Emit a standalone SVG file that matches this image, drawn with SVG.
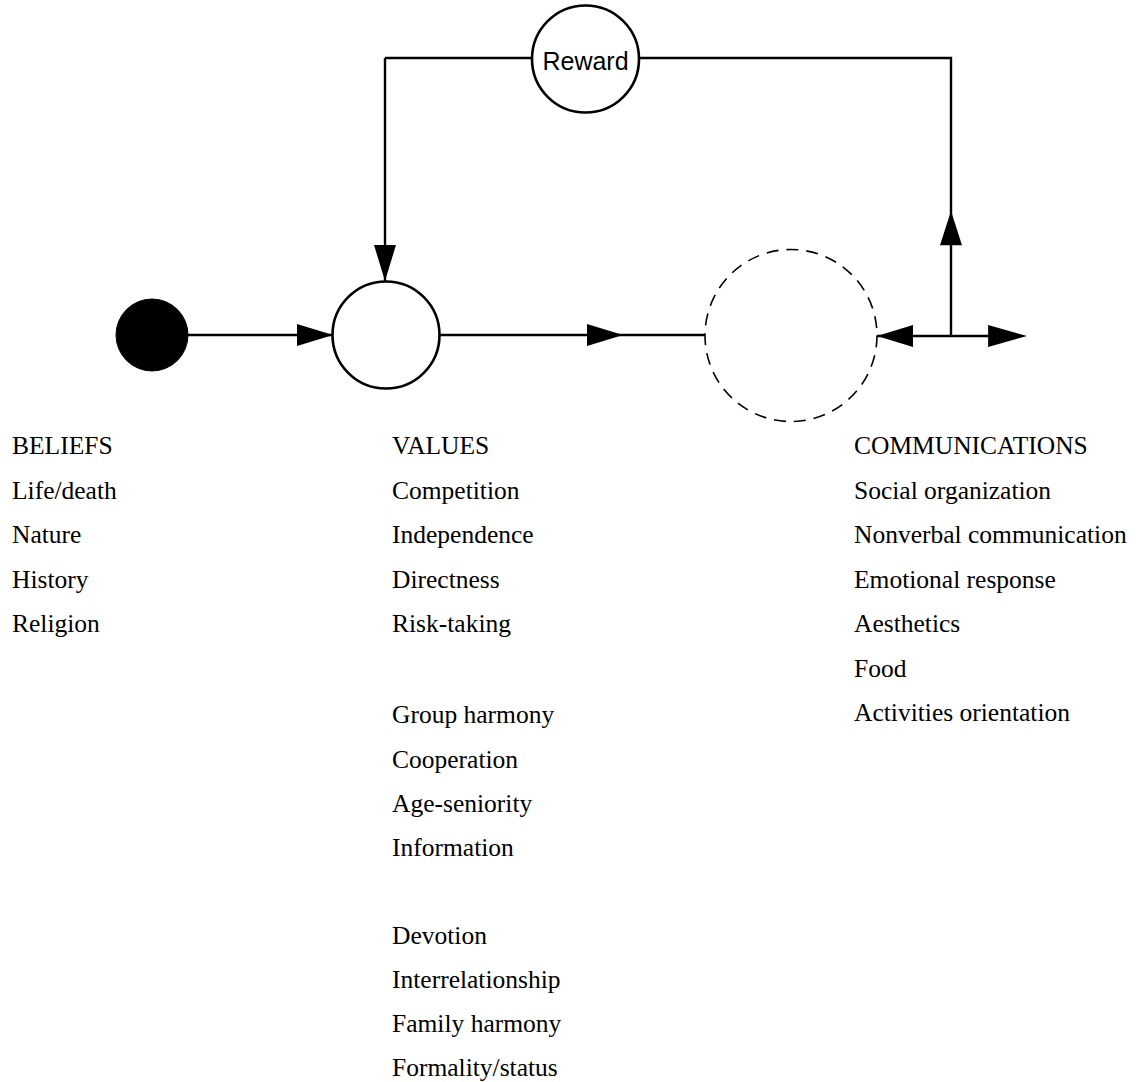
<svg xmlns="http://www.w3.org/2000/svg" width="1138" height="1082" viewBox="0 0 1138 1082">
  <style>
    .line { stroke: #000; stroke-width: 2.4; fill: none; }
    .node { stroke: #000; stroke-width: 2.6; fill: #fff; }
    .dashed { stroke: #000; stroke-width: 1.6; fill: none; stroke-dasharray: 12 8; }
    .list { font-family: "Liberation Serif", "Times New Roman", serif; font-size: 25.5px; fill: #000; }
    .lbl { font-family: "Liberation Sans", Arial, sans-serif; font-size: 25px; fill: #000; text-anchor: middle; }
  </style>
  <defs>
    <!-- filled arrowhead with its tip at the origin, pointing along +x -->
    <path id="ah" d="M0,0 L-36,-11 L-36,11 Z" fill="#000"/>
  </defs>

  <!-- connectors -->
  <g id="connectors">
    <path class="line" d="M187,335 H333"/>
    <path class="line" d="M438,335 H705"/>
    <path class="line" d="M385,58 H532 M639,58 H951 V336"/>
    <path class="line" d="M385,58 V281"/>
    <path class="line" d="M877,336 H1010"/>
    <use href="#ah" transform="translate(333,335)"/>
    <use href="#ah" transform="translate(385,281) rotate(90)"/>
    <use href="#ah" transform="translate(623,335)"/>
    <use href="#ah" transform="translate(951,211) rotate(-90) scale(0.95,1)"/>
    <use href="#ah" transform="translate(877,336) rotate(180)"/>
    <use href="#ah" transform="translate(1027,336) scale(1.08,1)"/>
  </g>

  <!-- nodes -->
  <g id="beliefs-node">
    <circle cx="152" cy="335" r="36" fill="#000" stroke="#000" stroke-width="1"/>
  </g>
  <g id="values-node">
    <circle class="node" cx="386" cy="335" r="53.5"/>
  </g>
  <g id="communications-node">
    <circle class="dashed" cx="791" cy="335.5" r="86"/>
  </g>
  <g id="reward-node">
    <circle class="node" cx="585.5" cy="59" r="53.5"/>
    <text class="lbl" x="585.5" y="70">Reward</text>
  </g>

  <!-- lists -->
  <g id="beliefs-list" class="list">
    <text x="12" y="454">BELIEFS</text>
    <text x="12" y="498.5">Life/death</text>
    <text x="12" y="543">Nature</text>
    <text x="12" y="587.5">History</text>
    <text x="12" y="632">Religion</text>
  </g>
  <g id="values-list" class="list">
    <text x="392" y="454">VALUES</text>
    <text x="392" y="498.5">Competition</text>
    <text x="392" y="543">Independence</text>
    <text x="392" y="587.5">Directness</text>
    <text x="392" y="632">Risk-taking</text>
    <text x="392" y="723">Group harmony</text>
    <text x="392" y="767.5">Cooperation</text>
    <text x="392" y="811.5">Age-seniority</text>
    <text x="392" y="855.5">Information</text>
    <text x="392" y="944">Devotion</text>
    <text x="392" y="988">Interrelationship</text>
    <text x="392" y="1032">Family harmony</text>
    <text x="392" y="1075.5">Formality/status</text>
  </g>
  <g id="communications-list" class="list">
    <text x="854" y="454">COMMUNICATIONS</text>
    <text x="854" y="498.5">Social organization</text>
    <text x="854" y="543">Nonverbal communication</text>
    <text x="854" y="587.5">Emotional response</text>
    <text x="854" y="632">Aesthetics</text>
    <text x="854" y="676.5">Food</text>
    <text x="854" y="721">Activities orientation</text>
  </g>
</svg>
